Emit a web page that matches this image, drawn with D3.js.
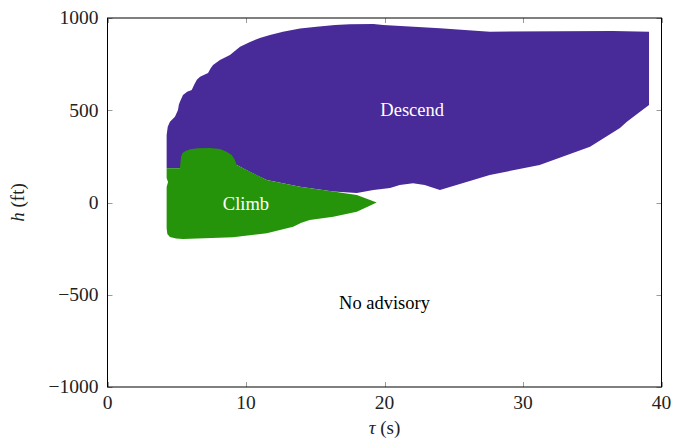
<!DOCTYPE html>
<html>
<head>
<meta charset="utf-8">
<script src="https://cdn.jsdelivr.net/npm/d3@7"></script>
<style>
  html, body { margin: 0; padding: 0; background: #fff; }
  svg { display: block; }
  text { font-family: "Liberation Serif", "Times New Roman", serif; }
</style>
</head>
<body>
<svg id="chart" width="673" height="440"></svg>
<script>
// Advisory regions over time to closest approach (tau, s) and relative altitude (h, ft)
const xTicks = [0, 10, 20, 30, 40];
const yTicks = [-1000, -500, 0, 500, 1000];

// Descend region outline, [tau, h]
const descendRegion = [
  [4.27, 185], [4.27, 366], [4.35, 410], [4.51, 438], [4.87, 465], [5.09, 501], [5.15, 530],
  [5.23, 546], [5.45, 583], [5.75, 600], [6.08, 610], [6.25, 637], [6.45, 665], [6.68, 682],
  [7.26, 702], [7.45, 728], [7.62, 745], [8.12, 772], [8.84, 799], [9.57, 844],
  [10.29, 870], [11.0, 892], [11.73, 908], [12.67, 926], [13.9, 943], [15.1, 953],
  [16.43, 962], [17.5, 966], [19.2, 967], [19.9, 962], [24.0, 944], [27.6, 926],
  [36.5, 930], [39.1, 926], [39.1, 528], [38.45, 492], [37.5, 438], [37.0, 404],
  [34.84, 302], [31.2, 203], [27.6, 149], [24.0, 68], [22.9, 95], [22.06, 104],
  [21.1, 95], [20.4, 79], [19.2, 68], [18.0, 51], [16.3, 59], [13.9, 86], [11.5, 122],
  [10.3, 165], [9.33, 203], [6.68, 230], [5.23, 185]
];

// Climb region outline, [tau, h]
const climbRegion = [
  [4.27, 185], [5.23, 185], [5.31, 248], [5.42, 268], [5.6, 278], [5.96, 288],
  [6.53, 294], [7.4, 295], [8.12, 290], [8.6, 275], [8.97, 257], [9.2, 230],
  [9.33, 203], [10.3, 167], [11.5, 122], [13.9, 86], [16.3, 59], [18.0, 41],
  [19.44, 0], [18.0, -50], [16.3, -77], [14.6, -95], [14.0, -110], [13.4, -131],
  [11.5, -167], [9.06, -189], [5.45, -198], [4.95, -195], [4.51, -187], [4.32, -171],
  [4.27, -140], [4.27, 84], [4.37, 111], [4.27, 133]
];

// Region labels: [text, tau, h]
const regionLabels = [
  ["Descend", 22, 500],
  ["Climb", 10, -8],
  ["No advisory", 20, -545]
];

const svg = d3.select("#chart");
const plotLeft = 107.5, plotRight = 661.5, plotTop = 18, plotBottom = 387;

const x = d3.scaleLinear().domain([0, 40]).range([plotLeft, plotRight]);
const y = d3.scaleLinear().domain([-1000, 1000]).range([plotBottom, plotTop]);

const line = d3.line().x(d => x(d[0])).y(d => y(d[1]));

svg.append("path")
  .attr("d", line(descendRegion) + "Z")
  .attr("fill", "#482a98");

svg.append("path")
  .attr("d", line(climbRegion) + "Z")
  .attr("fill", "#25940a");

const labelColors = ["#ffffff", "#ffffff", "#000000"];
svg.selectAll("text.region")
  .data(regionLabels)
  .join("text")
  .attr("class", "region")
  .attr("x", d => x(d[1]))
  .attr("y", d => y(d[2]))
  .attr("dy", "0.33em")
  .attr("text-anchor", "middle")
  .attr("font-size", 18.5)
  .attr("fill", (d, i) => labelColors[i])
  .text(d => d[0]);

// Inward tick marks on all four sides
const tickLen = 5;
const ticks = svg.append("g").attr("stroke", "#9a9a9a").attr("stroke-width", 1);
xTicks.forEach(t => {
  const px = Math.round(x(t)) + 0.5;
  ticks.append("line").attr("x1", px).attr("x2", px).attr("y1", plotBottom).attr("y2", plotBottom - tickLen);
  ticks.append("line").attr("x1", px).attr("x2", px).attr("y1", plotTop).attr("y2", plotTop + tickLen);
});
yTicks.forEach(t => {
  const py = Math.round(y(t)) + 0.5;
  ticks.append("line").attr("x1", plotLeft).attr("x2", plotLeft + tickLen).attr("y1", py).attr("y2", py);
  ticks.append("line").attr("x1", plotRight).attr("x2", plotRight - tickLen).attr("y1", py).attr("y2", py);
});

// Frame
svg.append("rect")
  .attr("x", plotLeft).attr("y", plotTop)
  .attr("width", plotRight - plotLeft).attr("height", plotBottom - plotTop)
  .attr("fill", "none").attr("stroke", "#000").attr("stroke-width", 1);

// Tick labels
const fmt = v => (v < 0 ? "\u2212" + Math.abs(v) : String(v));
svg.selectAll("text.xt")
  .data(xTicks)
  .join("text")
  .attr("class", "xt")
  .attr("x", d => x(d))
  .attr("y", plotBottom + 22)
  .attr("text-anchor", "middle")
  .attr("font-size", 19.5)
  .attr("fill", "#222")
  .text(fmt);

svg.selectAll("text.yt")
  .data(yTicks)
  .join("text")
  .attr("class", "yt")
  .attr("x", plotLeft - 9)
  .attr("y", d => y(d))
  .attr("dy", "0.33em")
  .attr("text-anchor", "end")
  .attr("font-size", 19.5)
  .attr("fill", "#222")
  .text(fmt);

// Axis titles
const xTitle = svg.append("text")
  .attr("x", x(20))
  .attr("y", 434)
  .attr("text-anchor", "middle")
  .attr("font-size", 19)
  .attr("fill", "#222");
xTitle.append("tspan").attr("font-style", "italic").text("\u03c4");
xTitle.append("tspan").text(" (s)");

const yTitle = svg.append("text")
  .attr("transform", `translate(24,${y(0)}) rotate(-90)`)
  .attr("text-anchor", "middle")
  .attr("font-size", 19)
  .attr("fill", "#222");
yTitle.append("tspan").attr("font-style", "italic").text("h");
yTitle.append("tspan").text(" (ft)");
</script>
</body>
</html>
